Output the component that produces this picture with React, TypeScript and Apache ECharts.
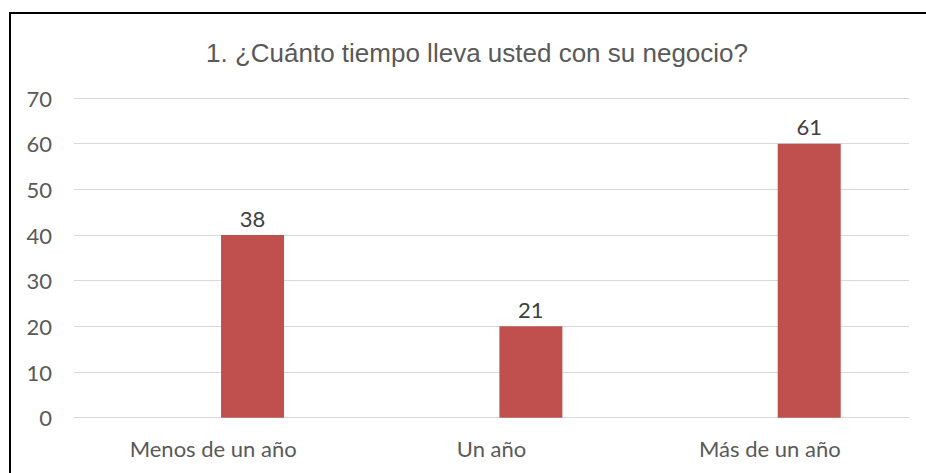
import React, { useEffect, useRef } from "react";
import * as echarts from "echarts";

const titleText = "1. ¿Cuánto tiempo lleva usted con su negocio?";
const categories = ["Menos de un año", "Un año", "Más de un año"];
const hiddenSeries: (number | null)[] = [null, null, null];
const barValues = [40, 20, 60];
const labelTexts = ["38", "21", "61"];
const yTicks = { min: 0, max: 70, interval: 10 };

const labelFont = "Lato, 'Open Sans', sans-serif";
const textColor = "#595959";

export default function App() {
  const ref = useRef<HTMLDivElement>(null);
  useEffect(() => {
    document.body.style.margin = "0";
    if (!ref.current) return;
    const chart = echarts.init(ref.current, undefined, { renderer: "svg" });
    chart.setOption({
      animation: false,
      backgroundColor: "#ffffff",
      title: {
        text: titleText,
        left: 472,
        top: 35,
        textAlign: "center",
        textStyle: {
          fontFamily: "'Liberation Sans', Arial, sans-serif",
          fontSize: 26,
          fontWeight: "normal",
          color: textColor,
        },
      },
      grid: { left: 74, right: 17, top: 98, bottom: 55.3, containLabel: false },
      xAxis: {
        type: "category",
        data: categories,
        axisLine: { show: true, lineStyle: { color: "#d9d9d9", width: 1 } },
        axisTick: { show: false },
        axisLabel: {
          margin: 20,
          fontFamily: labelFont,
          fontSize: 22,
          color: textColor,
        },
      },
      yAxis: {
        type: "value",
        min: yTicks.min,
        max: yTicks.max,
        interval: yTicks.interval,
        axisLine: { show: false },
        axisTick: { show: false },
        splitLine: { lineStyle: { color: "#d9d9d9", width: 1 } },
        axisLabel: {
          margin: 22,
          fontFamily: labelFont,
          fontSize: 22,
          color: textColor,
        },
      },
      series: [
        {
          type: "bar",
          name: "hidden",
          data: hiddenSeries,
          barWidth: 63,
          barGap: "25%",
          itemStyle: { color: "#4f81bd" },
        },
        {
          type: "bar",
          name: "values",
          data: barValues,
          barWidth: 63,
          barGap: "25%",
          itemStyle: { color: "#c0504d" },
          label: {
            show: true,
            position: "top",
            distance: 6,
            fontFamily: labelFont,
            fontSize: 22,
            color: "#404040",
            formatter: (p: any) => labelTexts[p.dataIndex],
          },
        },
      ],
      graphic: [
        {
          type: "rect",
          shape: { x: 9, y: 12, width: 2, height: 461 },
          style: { fill: "#000000" },
        },
        {
          type: "rect",
          shape: { x: 9, y: 12, width: 917, height: 2 },
          style: { fill: "#000000" },
        },
      ],
    });
    return () => chart.dispose();
  }, []);
  return <div ref={ref} style={{ width: 926, height: 473 }} />;
}
